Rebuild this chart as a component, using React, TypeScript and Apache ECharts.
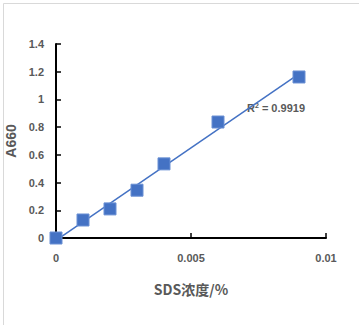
import React, { useEffect, useRef } from "react";
import * as echarts from "echarts";

const sdsConc = [0, 0.001, 0.002, 0.003, 0.004, 0.006, 0.009];
const a660 = [0, 0.13, 0.21, 0.345, 0.535, 0.837, 1.162];
const rSquaredText = "0.9919";
const xTicks = { min: 0, max: 0.01, interval: 0.005 };
const yTicks = { min: 0, max: 1.4, interval: 0.2 };

function linearFit(xs: number[], ys: number[]) {
  const n = xs.length;
  const mx = xs.reduce((a, b) => a + b, 0) / n;
  const my = ys.reduce((a, b) => a + b, 0) / n;
  let sxy = 0, sxx = 0;
  for (let i = 0; i < n; i++) {
    sxy += (xs[i] - mx) * (ys[i] - my);
    sxx += (xs[i] - mx) * (xs[i] - mx);
  }
  const slope = sxy / sxx;
  return { slope, intercept: my - slope * mx };
}

export default function App() {
  const ref = useRef<HTMLDivElement>(null);
  useEffect(() => {
    if (!ref.current) return;
    const chart = echarts.init(ref.current, null, { renderer: "svg" });
    const fit = linearFit(sdsConc, a660);
    const x0 = Math.min(...sdsConc);
    const x1 = Math.max(...sdsConc);
    const trend = [
      [x0, fit.slope * x0 + fit.intercept],
      [x1, fit.slope * x1 + fit.intercept],
    ];
    const txt = "#595959";
    const font = "'Liberation Sans', Arial, sans-serif";
    chart.setOption({
      animation: false,
      backgroundColor: "#ffffff",
      grid: { left: 56, right: 33, top: 44, bottom: 87, outerBoundsMode: "none", containLabel: false },
      xAxis: {
        type: "value",
        min: xTicks.min,
        max: xTicks.max,
        interval: xTicks.interval,
        name: "SDS浓度/%",
        nameLocation: "middle",
        nameGap: 44,
        nameTextStyle: { color: txt, fontSize: 14, fontWeight: "bold", fontFamily: "'Noto Sans CJK SC', " + font },
        axisLine: { show: true, onZero: false, lineStyle: { color: "#000", width: 2 } },
        axisTick: { show: true, inside: true, length: 5, lineStyle: { color: "#000", width: 1.5 } },
        axisLabel: { color: txt, fontSize: 11, fontWeight: "bold", fontFamily: font, margin: 14,
          formatter: (v: number) => String(+v.toFixed(4)) },
        splitLine: { show: false },
      },
      yAxis: {
        type: "value",
        min: yTicks.min,
        max: yTicks.max,
        interval: yTicks.interval,
        name: "A660",
        nameLocation: "middle",
        nameGap: 33,
        nameRotate: 90,
        nameTextStyle: { color: txt, fontSize: 14, fontWeight: "bold", fontFamily: font },
        axisLine: { show: true, onZero: false, lineStyle: { color: "#000", width: 2 } },
        axisTick: { show: true, inside: true, length: 5, lineStyle: { color: "#000", width: 1.5 } },
        axisLabel: { color: txt, fontSize: 11, fontWeight: "bold", fontFamily: font, margin: 12,
          formatter: (v: number) => String(+v.toFixed(2)) },
        splitLine: { show: false },
      },
      graphic: [
        {
          type: "rect",
          left: 1,
          top: 1,
          shape: { width: 357, height: 322 },
          style: { fill: "none", stroke: "#d9d9d9", lineWidth: 1 },
          silent: true,
        },
        {
          type: "text",
          left: 247,
          top: 102,
          style: {
            text: "{a|R}{s|2}{a| = " + rSquaredText + "}",
            rich: {
              a: { fontSize: 11, fontWeight: "bold", fill: txt, fontFamily: font },
              s: { fontSize: 7, fontWeight: "bold", fill: txt, fontFamily: font, verticalAlign: "top", padding: [0, 0, 5, 0] },
            },
          },
        },
      ],
      series: [
        {
          type: "line",
          data: trend,
          symbol: "none",
          lineStyle: { color: "#4472C4", width: 1.5 },
          z: 2,
        },
        {
          type: "scatter",
          data: sdsConc.map((x, i) => [x, a660[i]]),
          symbol: "rect",
          symbolSize: 12,
          itemStyle: { color: "#4472C4", borderColor: "#6a90d4", borderWidth: 1, opacity: 1 },
          z: 3,
        },
      ],
    });
    return () => chart.dispose();
  }, []);
  return (
    <div
      ref={ref}
      style={{ position: "fixed", left: 0, top: 0, width: 359, height: 325 }}
    />
  );
}
